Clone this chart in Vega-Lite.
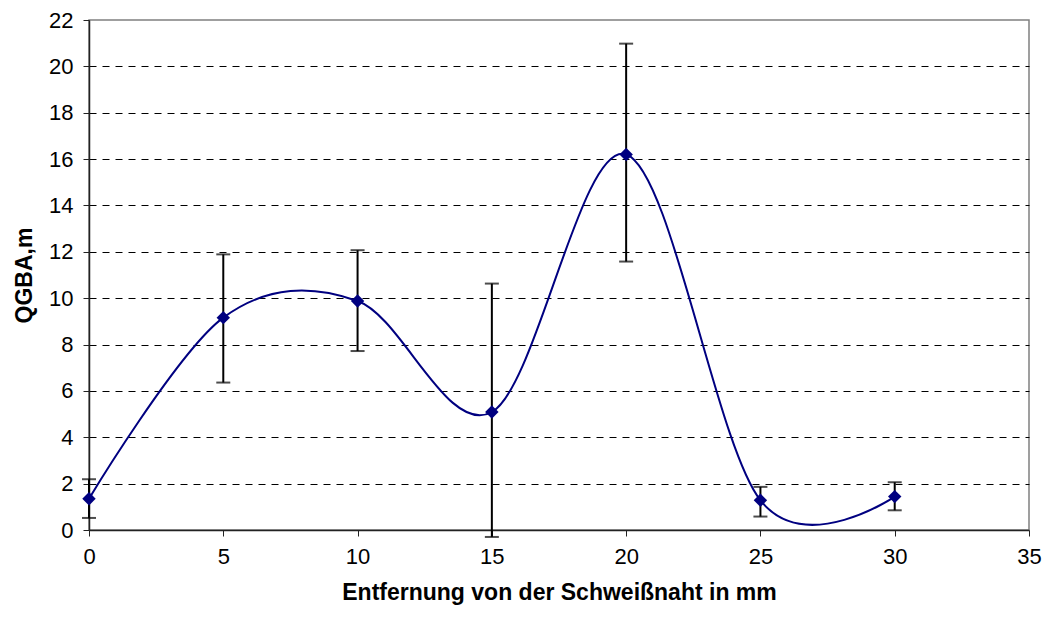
{
  "$schema": "https://vega.github.io/schema/vega-lite/v6.json",
  "width": 940,
  "height": 510,
  "autosize": {"type": "none"},
  "padding": {"left": 89, "top": 20, "right": 15, "bottom": 87},
  "background": "white",
  "config": {
    "font": "Liberation Sans",
    "view": {"stroke": "#808080", "strokeWidth": 1.5},
    "axis": {
      "labelFont": "Liberation Sans",
      "titleFont": "Liberation Sans",
      "labelFontSize": 22,
      "titleFontSize": 23,
      "titleFontWeight": "bold",
      "labelColor": "black",
      "titleColor": "black",
      "labelFlush": false,
      "domainColor": "#222222",
      "domainWidth": 1.5,
      "tickColor": "#222222",
      "tickSize": 6,
      "tickWidth": 1
    }
  },
  "data": {
    "values": [
      {"x": 0, "y": 1.35, "lo": 0.52, "hi": 2.19},
      {"x": 5, "y": 9.16, "lo": 6.36, "hi": 11.89},
      {"x": 10, "y": 9.88, "lo": 7.72, "hi": 12.07},
      {"x": 15, "y": 5.09, "lo": -0.3, "hi": 10.63},
      {"x": 20, "y": 16.2, "lo": 11.58, "hi": 20.98},
      {"x": 25, "y": 1.28, "lo": 0.58, "hi": 1.86},
      {"x": 30, "y": 1.44, "lo": 0.85, "hi": 2.06}
    ]
  },
  "layer": [
    {
      "mark": {"type": "rule", "color": "black", "strokeWidth": 2, "clip": false},
      "encoding": {
        "x": {
          "field": "x", "type": "quantitative",
          "scale": {"domain": [0, 35], "nice": false},
          "axis": {
            "title": "Entfernung von der Schweißnaht in mm",
            "values": [0, 5, 10, 15, 20, 25, 30, 35],
            "grid": false,
            "labelPadding": 10,
            "titlePadding": 14
          }
        },
        "y": {
          "field": "lo", "type": "quantitative",
          "scale": {"domain": [0, 22], "nice": false},
          "axis": {
            "title": "QGBA,m",
            "values": [0, 2, 4, 6, 8, 10, 12, 14, 16, 18, 20, 22],
            "grid": true,
            "gridColor": "black",
            "gridDash": [7, 6],
            "gridWidth": 1,
            "gridOpacity": {"condition": {"test": "datum.value == 0 || datum.value == 22", "value": 0}, "value": 1},
            "labelPadding": 10,
            "titlePadding": 12
          }
        },
        "y2": {"field": "hi"}
      }
    },
    {
      "mark": {"type": "tick", "orient": "horizontal", "color": "black", "size": 14, "thickness": 2, "clip": false},
      "encoding": {
        "x": {"field": "x", "type": "quantitative"},
        "y": {"field": "hi", "type": "quantitative"}
      }
    },
    {
      "mark": {"type": "tick", "orient": "horizontal", "color": "black", "size": 14, "thickness": 2, "clip": false},
      "encoding": {
        "x": {"field": "x", "type": "quantitative"},
        "y": {"field": "lo", "type": "quantitative"}
      }
    },
    {
      "mark": {"type": "line", "interpolate": "cardinal", "tension": 0, "color": "#000080", "strokeWidth": 2},
      "encoding": {
        "x": {"field": "x", "type": "quantitative"},
        "y": {"field": "y", "type": "quantitative"}
      }
    },
    {
      "mark": {"type": "point", "shape": "diamond", "filled": true, "color": "#000080", "size": 180, "opacity": 1},
      "encoding": {
        "x": {"field": "x", "type": "quantitative"},
        "y": {"field": "y", "type": "quantitative"}
      }
    }
  ]
}
